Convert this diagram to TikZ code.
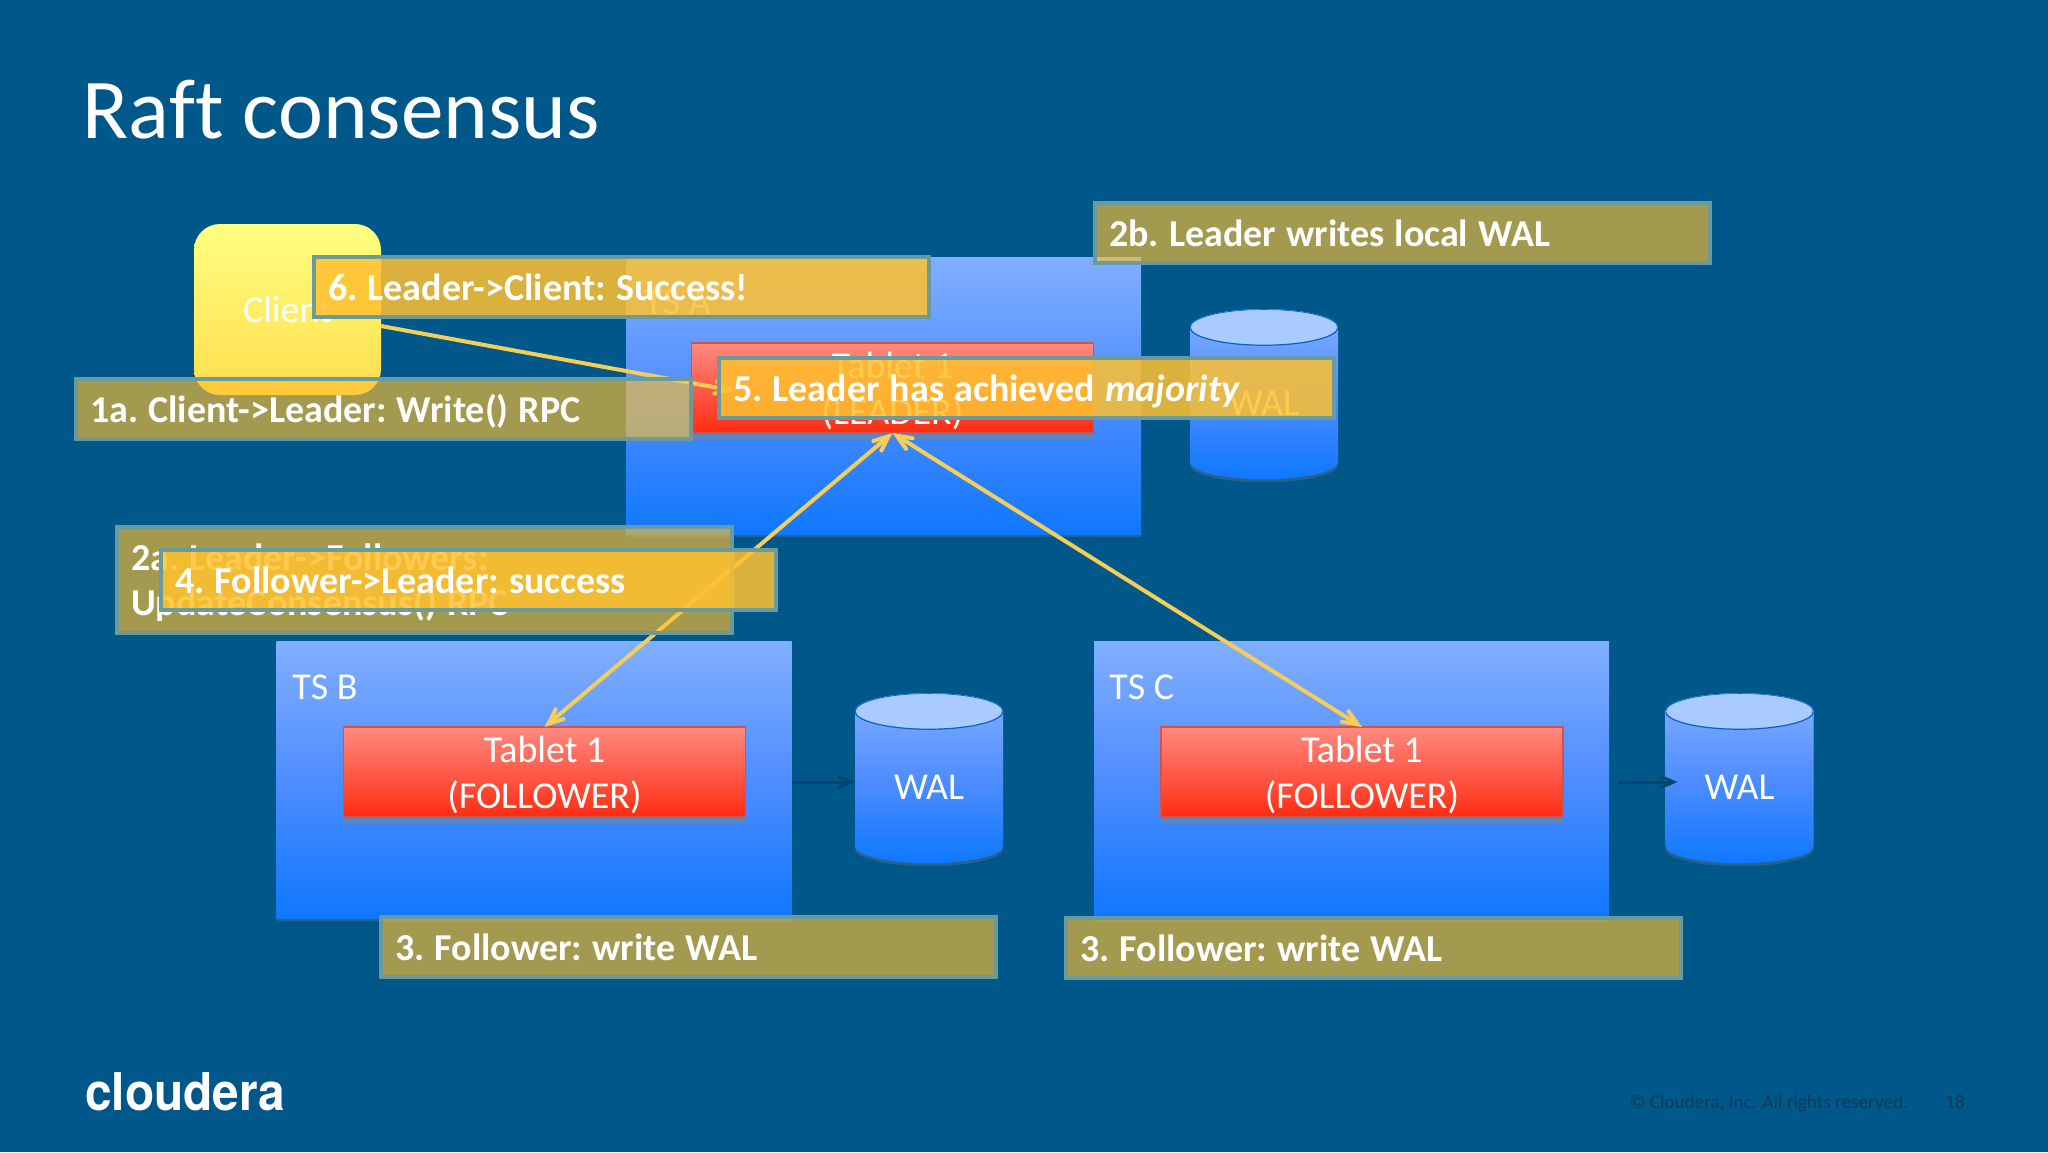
\documentclass[tikz,border=0pt]{standalone}
\usepackage{fontspec}
\setmainfont{Carlito}[Ligatures={TeX,CommonOff}]
\newfontfamily\logofont{TeX Gyre Heros}
\usetikzlibrary{arrows,shapes,positioning,shadows}

\definecolor{slidebg}{HTML}{00578A}
\definecolor{calloutfill}{HTML}{FFC12F}
\definecolor{calloutedge}{HTML}{6B9A9C}
\definecolor{linkcol}{HTML}{F5CE5A}
\definecolor{walarrow}{HTML}{00456F}
\definecolor{footcol}{HTML}{0F3A5C}
\definecolor{bluetop}{HTML}{80AFFF}
\definecolor{bluemid}{HTML}{4F8DFF}
\definecolor{bluebot}{HTML}{0F78FF}
\definecolor{redtop}{HTML}{FF8A80}
\definecolor{redbot}{HTML}{FF2C12}
\definecolor{rededge}{HTML}{D8504A}
\definecolor{captop}{HTML}{A9CBFF}
\definecolor{capedge}{HTML}{0A62C0}
\definecolor{clienttop}{HTML}{FFFF80}
\definecolor{clientbot}{HTML}{FFDD4D}

\tikzset{
  softshadow/.style={drop shadow={shadow xshift=0pt,shadow yshift=-1.5pt,opacity=.3}},
  bigtext/.style={text=white,font=\fontsize{19}{23}\selectfont},
  tsbox/.style={rectangle,inner sep=0pt,outer sep=0pt,minimum width=257.5pt,minimum height=138.5pt,
    top color=bluetop,bottom color=bluebot,middle color=bluemid,softshadow},
  tablet/.style={rectangle,draw=rededge,line width=.6pt,inner sep=0pt,outer sep=0pt,text width=201pt,minimum height=45pt,
    top color=redtop,bottom color=redbot,align=center,bigtext,
    drop shadow={shadow xshift=0pt,shadow yshift=-3pt,opacity=.5},
    execute at begin node={\spaceskip=.22em\relax\rule{0pt}{16pt}}},
  wal/.style={cylinder,shape border rotate=90,aspect=.49,inner sep=0pt,outer sep=0pt,minimum width=74pt,minimum height=85pt,
    top color=bluetop,bottom color=bluebot,middle color=bluemid,bigtext,softshadow,yshift=-3.75pt,
    path picture={\draw [fill=captop,draw=capedge,line width=.6pt]
      ([yshift=-9pt]path picture bounding box.north) ellipse (37pt and 9pt);}},
  client/.style={rectangle,rounded corners=13pt,inner sep=0pt,outer sep=0pt,minimum width=93.5pt,minimum height=85.5pt,
    top color=clienttop,bottom color=clientbot,bigtext},
  tslabel/.style={anchor=base west,inner sep=0pt,bigtext},
  link/.style={draw=linkcol,line width=2pt},
  walink/.style={draw=walarrow,line width=1.5pt},
  callout/.style={rectangle,anchor=north west,draw=calloutedge,line width=2pt,fill=calloutfill,fill opacity=.64,text opacity=1,
    inner xsep=7pt,inner ysep=0pt,outer sep=0pt,text width=293.5pt,minimum height=30pt,align=left,text=white,
    font=\fontsize{19}{22.5}\selectfont\bfseries\frenchspacing,
    execute at begin node={\spaceskip=.27em\relax\rule{0pt}{17.3pt}},execute at end node={\rule[-4pt]{0pt}{4pt}}},
  newcallout/.style={callout,fill opacity=.85},
}

\begin{document}
\begin{tikzpicture}[x=.5pt,y=-.5pt]
\fill [slidebg] (0,0) rectangle (2048,1152);
\useasboundingbox (0,0) rectangle (2048,1152);

\node [anchor=base west,inner sep=0pt,text=white,font=\fontsize{42.6}{50}\selectfont] (title) at (82,138) {Raft consensus};
\node [anchor=base west,inner sep=0pt,text=white,xscale=.92,font=\fontsize{26}{30}\selectfont\logofont\bfseries] (logo) at (85,1110) {cloudera};
\node [anchor=base west,inner sep=0pt,text=footcol,font=\fontsize{9.6}{11}\selectfont] (copy) at (1629,1108) {© Cloudera, Inc. All rights reserved.};
\node [anchor=base west,inner sep=0pt,text=footcol,font=\fontsize{9.6}{11}\selectfont] (page) at (1945,1108) {18};

\node [tsbox] (tsA) at (883.5,395.5) {};
\node [tsbox] (tsB) at (534,779.5) {};
\node [tsbox] (tsC) at (1351.5,779.5) {};

\node [tslabel] (lblA) at (644,314) {TS A};
\node [tslabel] (lblB) at (292,699) {TS B};
\node [tslabel] (lblC) at (1109,699) {TS C};

\node [tablet,above=50.5pt of tsA.south,xshift=4.5pt] (tabA) {Tablet 1\\(LEADER)};
\node [tablet,above=50.5pt of tsB.south,xshift=5.25pt] (tabB) {Tablet 1\\(FOLLOWER)};
\node [tablet,above=50.5pt of tsC.south,xshift=5.25pt] (tabC) {Tablet 1\\(FOLLOWER)};

\node [wal,right=24.5pt of tsA] (walA) {\raisebox{-2pt}{WAL}};
\node [wal,right=31.75pt of tsB] (walB) {\raisebox{-2pt}{WAL}};
\node [wal,right=28.25pt of tsC] (walC) {\raisebox{-2pt}{WAL}};

\node [client] (client) at (287.5,309.5) {Client};
\coordinate (tabAin) at (735,391);

\draw [->, -angle 45, walink] ([yshift=-1.25pt]tsB.east) to ([yshift=2.5pt]walB.west);
\draw [->, -angle 45, walink, shorten <=4.5pt, shorten >=-6pt] ([yshift=-1.25pt]tsC.east) to ([yshift=2.5pt]walC.west);

\draw [->, -angle 45, link] (client.-10) to (tabAin);
\draw [angle 45-angle 45, link] (tabA.south) to (tabB.north);
\draw [angle 45-angle 45, link] (tabA.south) to (tabC.north);

\node [callout] (step1a) at (76,379) {1a. Client->Leader: Write() RPC};
\node [callout,minimum height=53pt] (step2a) at (117,527) {2a. Leader->Followers:\\UpdateConsensus() RPC};
\node [callout] (step2b) at (1095,203) {2b. Leader writes local WAL};
\node [callout] (step3b) at (381,917) {3. Follower: write WAL};
\node [callout] (step3c) at (1066,918) {3. Follower: write WAL};
\node [newcallout] (step4) at (161,550) {4. Follower->Leader: success};
\node [newcallout] (step5) at (719,358) {5. Leader has achieved \textit{majority}};
\node [newcallout] (step6) at (314,257) {6. Leader->Client: Success!};
\end{tikzpicture}
\end{document}
